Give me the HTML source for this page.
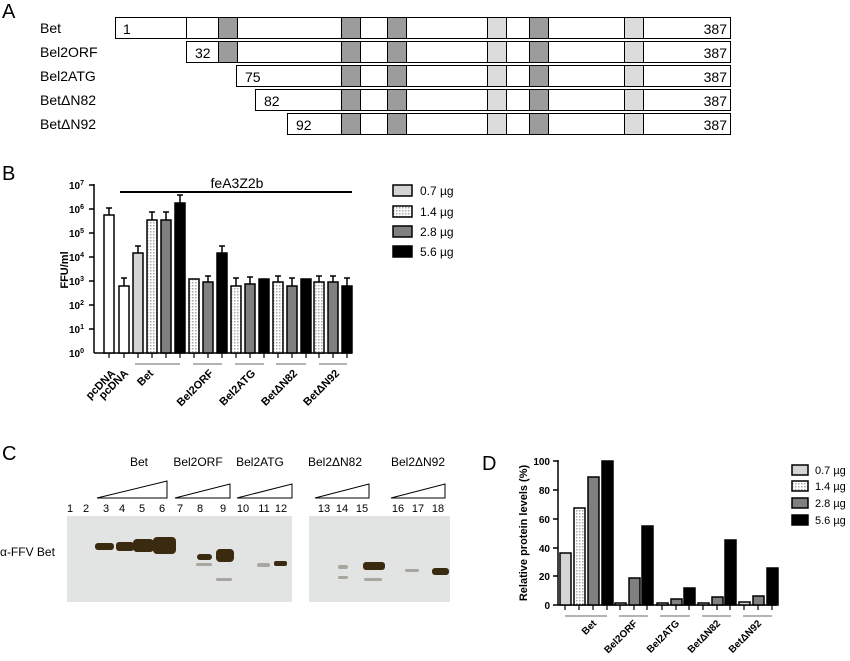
<!DOCTYPE html>
<html><head><meta charset="utf-8"><style>
html,body{margin:0;padding:0;background:#fff;}
svg{display:block;font-family:"Liberation Sans",Arial,sans-serif;}
</style></head><body>
<svg width="850" height="661" viewBox="0 0 850 661" xmlns="http://www.w3.org/2000/svg">
<defs>
<pattern id="dots" width="3" height="3" patternUnits="userSpaceOnUse"><rect width="3" height="3" fill="#fff"/><rect width="1.5" height="1.5" fill="#aaa"/></pattern>
</defs>
<!-- Panel A -->
<text x="2" y="18" font-size="20">A</text>
<g font-size="14" fill="#000">
<text x="40" y="33">Bet</text>
<text x="40" y="57">Bel2ORF</text>
<text x="40" y="81">Bel2ATG</text>
<text x="40" y="105">BetΔN82</text>
<text x="40" y="129">BetΔN92</text>
</g>
<g stroke="#000" stroke-width="1">
<rect x="115.5" y="17.5" width="615" height="21" fill="#fff"/>
<line x1="186.5" y1="17.5" x2="186.5" y2="38.5"/>
<rect x="186.5" y="41.5" width="544" height="21" fill="#fff"/>
<rect x="236.5" y="65.5" width="494" height="21" fill="#fff"/>
<rect x="255.5" y="89.5" width="475" height="21" fill="#fff"/>
<rect x="287.5" y="113.5" width="443" height="21" fill="#fff"/>
<rect x="218.5" y="17.5" width="19" height="21" fill="#9c9c9c"/>
<rect x="218.5" y="41.5" width="19" height="21" fill="#9c9c9c"/>
<g fill="#9c9c9c">
<rect x="341.5" y="17.5" width="19" height="21"/><rect x="341.5" y="41.5" width="19" height="21"/><rect x="341.5" y="65.5" width="19" height="21"/><rect x="341.5" y="89.5" width="19" height="21"/><rect x="341.5" y="113.5" width="19" height="21"/>
<rect x="387.5" y="17.5" width="19" height="21"/><rect x="387.5" y="41.5" width="19" height="21"/><rect x="387.5" y="65.5" width="19" height="21"/><rect x="387.5" y="89.5" width="19" height="21"/><rect x="387.5" y="113.5" width="19" height="21"/>
<rect x="529.5" y="17.5" width="19" height="21"/><rect x="529.5" y="41.5" width="19" height="21"/><rect x="529.5" y="65.5" width="19" height="21"/><rect x="529.5" y="89.5" width="19" height="21"/><rect x="529.5" y="113.5" width="19" height="21"/>
</g>
<g fill="#dcdcdc">
<rect x="487.5" y="17.5" width="19" height="21"/><rect x="487.5" y="41.5" width="19" height="21"/><rect x="487.5" y="65.5" width="19" height="21"/><rect x="487.5" y="89.5" width="19" height="21"/><rect x="487.5" y="113.5" width="19" height="21"/>
<rect x="624.5" y="17.5" width="19" height="21"/><rect x="624.5" y="41.5" width="19" height="21"/><rect x="624.5" y="65.5" width="19" height="21"/><rect x="624.5" y="89.5" width="19" height="21"/><rect x="624.5" y="113.5" width="19" height="21"/>
</g>
</g>
<g font-size="14">
<text x="123" y="34">1</text><text x="195" y="58">32</text><text x="245" y="82">75</text><text x="264" y="106">82</text><text x="296" y="130">92</text>
<g text-anchor="end"><text x="727" y="34">387</text><text x="727" y="58">387</text><text x="727" y="82">387</text><text x="727" y="106">387</text><text x="727" y="130">387</text></g>
</g>

<!-- Panel B -->
<text x="2" y="180" font-size="20">B</text>
<text x="237" y="188" font-size="14" text-anchor="middle">feA3Z2b</text>
<line x1="120" y1="192" x2="352" y2="192" stroke="#000" stroke-width="2"/>
<text transform="translate(68,270) rotate(-90)" font-size="11" font-weight="bold" text-anchor="middle">FFU/ml</text>
<g stroke="#000" stroke-width="1.5">
<line x1="94" y1="184" x2="94" y2="353"/>
<line x1="94" y1="353" x2="352" y2="353"/>
<line x1="89" y1="185" x2="94" y2="185"/><line x1="89" y1="209" x2="94" y2="209"/><line x1="89" y1="233" x2="94" y2="233"/><line x1="89" y1="257" x2="94" y2="257"/><line x1="89" y1="281" x2="94" y2="281"/><line x1="89" y1="305" x2="94" y2="305"/><line x1="89" y1="329" x2="94" y2="329"/>
</g>
<g font-size="10" font-weight="bold" text-anchor="end">
<text x="84" y="189">10<tspan dy="-4" font-size="7">7</tspan></text>
<text x="84" y="213">10<tspan dy="-4" font-size="7">6</tspan></text>
<text x="84" y="237">10<tspan dy="-4" font-size="7">5</tspan></text>
<text x="84" y="261">10<tspan dy="-4" font-size="7">4</tspan></text>
<text x="84" y="285">10<tspan dy="-4" font-size="7">3</tspan></text>
<text x="84" y="309">10<tspan dy="-4" font-size="7">2</tspan></text>
<text x="84" y="333">10<tspan dy="-4" font-size="7">1</tspan></text>
<text x="84" y="357">10<tspan dy="-4" font-size="7">0</tspan></text>
</g>
<g stroke="#000" stroke-width="1.5">
<line x1="109" y1="208" x2="109" y2="215"/><line x1="106" y1="208" x2="112" y2="208"/><rect x="104" y="215" width="10" height="138" fill="#fff"/>
<line x1="124" y1="278" x2="124" y2="286"/><line x1="121" y1="278" x2="127" y2="278"/><rect x="119" y="286" width="10" height="67" fill="#fff"/>
<line x1="138" y1="246" x2="138" y2="253"/><line x1="135" y1="246" x2="141" y2="246"/><rect x="133" y="253" width="10" height="100" fill="#d4d4d4"/>
<line x1="152" y1="212" x2="152" y2="220"/><line x1="149" y1="212" x2="155" y2="212"/><rect x="147" y="220" width="10" height="133" fill="url(#dots)"/>
<line x1="166" y1="212" x2="166" y2="220"/><line x1="163" y1="212" x2="169" y2="212"/><rect x="161" y="220" width="10" height="133" fill="#808080"/>
<line x1="180" y1="195" x2="180" y2="203"/><line x1="177" y1="195" x2="183" y2="195"/><rect x="175" y="203" width="10" height="150" fill="#000"/>
<rect x="189" y="279" width="10" height="74" fill="url(#dots)"/>
<line x1="208" y1="276" x2="208" y2="282"/><line x1="205" y1="276" x2="211" y2="276"/><rect x="203" y="282" width="10" height="71" fill="#808080"/>
<line x1="222" y1="246" x2="222" y2="253"/><line x1="219" y1="246" x2="225" y2="246"/><rect x="217" y="253" width="10" height="100" fill="#000"/>
<line x1="236" y1="278" x2="236" y2="286"/><line x1="233" y1="278" x2="239" y2="278"/><rect x="231" y="286" width="10" height="67" fill="url(#dots)"/>
<line x1="250" y1="277" x2="250" y2="284"/><line x1="247" y1="277" x2="253" y2="277"/><rect x="245" y="284" width="10" height="69" fill="#808080"/>
<rect x="259" y="279" width="10" height="74" fill="#000"/>
<line x1="278" y1="276" x2="278" y2="282"/><line x1="275" y1="276" x2="281" y2="276"/><rect x="273" y="282" width="10" height="71" fill="url(#dots)"/>
<line x1="292" y1="278" x2="292" y2="286"/><line x1="289" y1="278" x2="295" y2="278"/><rect x="287" y="286" width="10" height="67" fill="#808080"/>
<rect x="301" y="279" width="10" height="74" fill="#000"/>
<line x1="319" y1="276" x2="319" y2="282"/><line x1="316" y1="276" x2="322" y2="276"/><rect x="314" y="282" width="10" height="71" fill="url(#dots)"/>
<line x1="333" y1="276" x2="333" y2="282"/><line x1="330" y1="276" x2="336" y2="276"/><rect x="328" y="282" width="10" height="71" fill="#808080"/>
<line x1="347" y1="278" x2="347" y2="286"/><line x1="344" y1="278" x2="350" y2="278"/><rect x="342" y="286" width="10" height="67" fill="#000"/>
</g>
<g stroke="#000" stroke-width="1.2">
<line x1="109" y1="353" x2="109" y2="358"/><line x1="124" y1="353" x2="124" y2="358"/><line x1="138" y1="353" x2="138" y2="358"/><line x1="152" y1="353" x2="152" y2="358"/><line x1="166" y1="353" x2="166" y2="358"/><line x1="180" y1="353" x2="180" y2="358"/><line x1="194" y1="353" x2="194" y2="358"/><line x1="208" y1="353" x2="208" y2="358"/><line x1="222" y1="353" x2="222" y2="358"/><line x1="236" y1="353" x2="236" y2="358"/><line x1="250" y1="353" x2="250" y2="358"/><line x1="264" y1="353" x2="264" y2="358"/><line x1="278" y1="353" x2="278" y2="358"/><line x1="292" y1="353" x2="292" y2="358"/><line x1="306" y1="353" x2="306" y2="358"/><line x1="319" y1="353" x2="319" y2="358"/><line x1="333" y1="353" x2="333" y2="358"/><line x1="347" y1="353" x2="347" y2="358"/>
</g>
<g stroke="#888" stroke-width="1.2">
<line x1="135" y1="364" x2="180" y2="364"/><line x1="193" y1="364" x2="222" y2="364"/><line x1="235" y1="364" x2="264" y2="364"/><line x1="276" y1="364" x2="306" y2="364"/><line x1="319" y1="364" x2="347" y2="364"/>
</g>
<g font-size="11" font-weight="bold" text-anchor="end">
<text transform="translate(116,374) rotate(-45)">pcDNA</text>
<text transform="translate(129,374) rotate(-45)">pcDNA</text>
<text transform="translate(154,374) rotate(-45)">Bet</text>
<text transform="translate(214,374) rotate(-45)">Bel2ORF</text>
<text transform="translate(256,374) rotate(-45)">Bel2ATG</text>
<text transform="translate(298,374) rotate(-45)">BetΔN82</text>
<text transform="translate(340,374) rotate(-45)">BetΔN92</text>
</g>
<g stroke="#000" stroke-width="1.5">
<rect x="393" y="185" width="19" height="11" fill="#d4d4d4"/>
<rect x="393" y="206" width="19" height="11" fill="url(#dots)"/>
<rect x="393" y="226" width="19" height="11" fill="#808080"/>
<rect x="393" y="246" width="19" height="11" fill="#000"/>
</g>
<g font-size="12"><text x="420" y="195">0.7 µg</text><text x="420" y="216">1.4 µg</text><text x="420" y="236">2.8 µg</text><text x="420" y="256">5.6 µg</text></g>

<!-- Panel C -->
<text x="2" y="460" font-size="20">C</text>
<g font-size="12" text-anchor="middle">
<text x="139" y="466">Bet</text><text x="198" y="466">Bel2ORF</text><text x="260" y="466">Bel2ATG</text><text x="335" y="466">Bel2ΔN82</text><text x="418" y="466">Bel2ΔN92</text>
</g>
<g fill="none" stroke="#000" stroke-width="1">
<polygon points="97,498 167,481 167,498"/>
<polygon points="175,498 230,484 230,498"/>
<polygon points="237,498 292,484 292,498"/>
<polygon points="315,498 369,484 369,498"/>
<polygon points="391,498 445,484 445,498"/>
</g>
<g font-size="11" text-anchor="middle">
<text x="70" y="512">1</text><text x="86" y="512">2</text><text x="106" y="512">3</text><text x="122" y="512">4</text><text x="142" y="512">5</text><text x="162" y="512">6</text><text x="180" y="512">7</text><text x="200" y="512">8</text><text x="223" y="512">9</text><text x="243" y="512">10</text><text x="264" y="512">11</text><text x="281" y="512">12</text><text x="324" y="512">13</text><text x="342" y="512">14</text><text x="362" y="512">15</text><text x="398" y="512">16</text><text x="418" y="512">17</text><text x="438" y="512">18</text>
</g>
<text x="0" y="556" font-size="12">α-FFV Bet</text>
<rect x="67" y="516" width="225" height="86" fill="#e2e3e3"/>
<rect x="309" y="516" width="141" height="86" fill="#e2e3e3"/>
<g fill="#3a2a10">
<rect x="95" y="543" width="19" height="7" rx="3"/>
<rect x="116" y="542" width="18" height="9" rx="3"/>
<rect x="133" y="539" width="21" height="13" rx="4"/>
<rect x="153" y="537" width="23" height="17" rx="4"/>
<rect x="197" y="554" width="15" height="6" rx="3"/>
<rect x="216" y="549" width="18" height="13" rx="4"/>
<rect x="274" y="561" width="13" height="5" rx="2"/>
<rect x="363" y="562" width="22" height="8" rx="3"/>
<rect x="432" y="568" width="17" height="7" rx="3"/>
</g>
<g fill="#a8a69e">
<rect x="257" y="563" width="13" height="4" rx="2"/>
<rect x="338" y="565" width="10" height="4" rx="2"/>
<rect x="338" y="576" width="10" height="3" rx="1.5"/>
<rect x="364" y="578" width="18" height="3" rx="1.5"/>
<rect x="405" y="569" width="14" height="3" rx="1.5"/>
<rect x="216" y="578" width="16" height="3" rx="1.5"/>
<rect x="196" y="563" width="16" height="3" rx="1.5"/>
</g>

<!-- Panel D -->
<text x="482" y="470" font-size="20">D</text>
<text transform="translate(527,533) rotate(-90)" font-size="11" font-weight="bold" text-anchor="middle">Relative protein levels (%)</text>
<g stroke="#000" stroke-width="1.5">
<line x1="558" y1="460" x2="558" y2="605"/>
<line x1="558" y1="605" x2="777" y2="605"/>
<line x1="553" y1="461" x2="558" y2="461"/><line x1="553" y1="490" x2="558" y2="490"/><line x1="553" y1="519" x2="558" y2="519"/><line x1="553" y1="548" x2="558" y2="548"/><line x1="553" y1="576" x2="558" y2="576"/><line x1="553" y1="605" x2="558" y2="605"/>
</g>
<g font-size="10" font-weight="bold" text-anchor="end">
<text x="550" y="465">100</text><text x="550" y="494">80</text><text x="550" y="523">60</text><text x="550" y="552">40</text><text x="550" y="580">20</text><text x="550" y="609">0</text>
</g>
<g stroke="#000" stroke-width="1.5">
<rect x="560" y="553" width="11" height="52" fill="#d4d4d4"/>
<rect x="574" y="508" width="11" height="97" fill="url(#dots)"/>
<rect x="588" y="477" width="11" height="128" fill="#808080"/>
<rect x="602" y="461" width="11" height="144" fill="#000"/>
<rect x="615" y="603" width="11" height="2" fill="#d4d4d4"/>
<rect x="629" y="578" width="11" height="27" fill="#808080"/>
<rect x="642" y="526" width="11" height="79" fill="#000"/>
<rect x="657" y="603" width="11" height="2" fill="#d4d4d4"/>
<rect x="671" y="599" width="11" height="6" fill="#808080"/>
<rect x="684" y="588" width="11" height="17" fill="#000"/>
<rect x="698" y="603" width="11" height="2" fill="#d4d4d4"/>
<rect x="712" y="597" width="11" height="8" fill="#808080"/>
<rect x="725" y="540" width="11" height="65" fill="#000"/>
<rect x="739" y="602" width="11" height="3" fill="#d4d4d4"/>
<rect x="753" y="596" width="11" height="9" fill="#808080"/>
<rect x="767" y="568" width="11" height="37" fill="#000"/>
</g>
<g stroke="#000" stroke-width="1.2">
<line x1="565" y1="605" x2="565" y2="610"/><line x1="579" y1="605" x2="579" y2="610"/><line x1="593" y1="605" x2="593" y2="610"/><line x1="607" y1="605" x2="607" y2="610"/><line x1="620" y1="605" x2="620" y2="610"/><line x1="634" y1="605" x2="634" y2="610"/><line x1="647" y1="605" x2="647" y2="610"/><line x1="662" y1="605" x2="662" y2="610"/><line x1="676" y1="605" x2="676" y2="610"/><line x1="689" y1="605" x2="689" y2="610"/><line x1="703" y1="605" x2="703" y2="610"/><line x1="717" y1="605" x2="717" y2="610"/><line x1="730" y1="605" x2="730" y2="610"/><line x1="744" y1="605" x2="744" y2="610"/><line x1="758" y1="605" x2="758" y2="610"/><line x1="772" y1="605" x2="772" y2="610"/>
</g>
<g stroke="#888" stroke-width="1.2">
<line x1="565" y1="616" x2="607" y2="616"/><line x1="619" y1="616" x2="648" y2="616"/><line x1="660" y1="616" x2="690" y2="616"/><line x1="702" y1="616" x2="731" y2="616"/><line x1="743" y1="616" x2="772" y2="616"/>
</g>
<g font-size="10" font-weight="bold" text-anchor="end">
<text transform="translate(597,624) rotate(-45)">Bet</text>
<text transform="translate(638,624) rotate(-45)">Bel2ORF</text>
<text transform="translate(680,624) rotate(-45)">Bel2ATG</text>
<text transform="translate(721,624) rotate(-45)">BetΔN82</text>
<text transform="translate(762,624) rotate(-45)">BetΔN92</text>
</g>
<g stroke="#000" stroke-width="1.5">
<rect x="792" y="465" width="16" height="10" fill="#d4d4d4"/>
<rect x="792" y="481" width="16" height="10" fill="url(#dots)"/>
<rect x="792" y="498" width="16" height="10" fill="#808080"/>
<rect x="792" y="515" width="16" height="10" fill="#000"/>
</g>
<g font-size="11"><text x="815" y="474">0.7 µg</text><text x="815" y="490">1.4 µg</text><text x="815" y="507">2.8 µg</text><text x="815" y="524">5.6 µg</text></g>
</svg>
</body></html>
